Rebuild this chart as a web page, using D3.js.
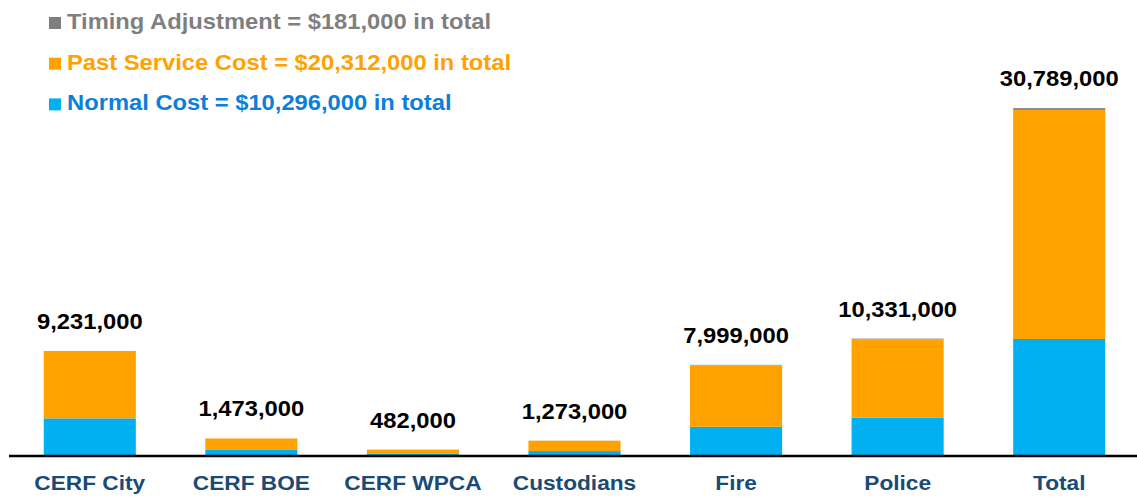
<!DOCTYPE html>
<html>
<head>
<meta charset="utf-8">
<script src="https://cdn.jsdelivr.net/npm/d3@7"></script>
<style>
  body { margin: 0; background: #fff; }
  svg { display: block; font-family: Arial, "Liberation Sans", sans-serif; font-weight: bold; }
</style>
</head>
<body>
<div class="svg-div"></div>
<script>
// chart values
const categories = ["CERF City", "CERF BOE", "CERF WPCA", "Custodians", "Fire", "Police", "Total"];
const normalCost = [3250000, 450000, 140000, 350000, 2500000, 3330000, 10296000];
const pastServiceCost = [5927000, 1014000, 339000, 915000, 5452000, 6941000, 20312000];
const timingAdjustment = [54000, 9000, 3000, 8000, 47000, 60000, 181000];
const totals = [9231000, 1473000, 482000, 1273000, 7999000, 10331000, 30789000];
const legendLabels = [
  "Timing Adjustment = $181,000 in total",
  "Past Service Cost = $20,312,000 in total",
  "Normal Cost = $10,296,000 in total"
];

const svgWidth = 1137, svgHeight = 498;
const stretch = "scale(1.08,1)";

let data = categories.map(function (c, i) {
  return { cat: c, normal: normalCost[i], past: pastServiceCost[i], timing: timingAdjustment[i], total: totals[i] };
});
let keys = ["normal", "past", "timing"];
let colors = { normal: "#00b0f0", past: "#ffa200", timing: "#8c8c8c" };

let svg = d3.select(".svg-div").append("svg")
  .attr("width", svgWidth)
  .attr("height", svgHeight);

let x = d3.scaleBand()
  .domain(categories)
  .range([9, 1140])
  .paddingInner(0.43)
  .paddingOuter(0.215);

let y = d3.scaleLinear()
  .domain([0, d3.max(totals)])
  .range([455, 108]);

let stacked = d3.stack().keys(keys)(data);

svg.selectAll(".layer")
  .data(stacked)
  .enter()
  .append("g")
  .attr("class", "layer")
  .style("fill", function (d) { return colors[d.key]; })
  .selectAll("rect")
  .data(function (d) { return d; })
  .enter()
  .append("rect")
  .attr("x", function (d) { return x(d.data.cat); })
  .attr("y", function (d) { return y(d[1]); })
  .attr("width", x.bandwidth())
  .attr("height", function (d) { return y(d[0]) - y(d[1]); });

// total labels above bars
svg.selectAll(".total")
  .data(data)
  .enter()
  .append("text")
  .attr("class", "total")
  .attr("transform", function (d) {
    return "translate(" + (x(d.cat) + x.bandwidth() / 2) + "," + (y(d.total) - 22) + ") " + stretch;
  })
  .attr("text-anchor", "middle")
  .style("font-size", "22px")
  .style("fill", "#000")
  .text(function (d) { return d3.format(",")(d.total); });

// category axis
let axis = svg.append("g")
  .attr("transform", "translate(0,456)")
  .call(d3.axisBottom(x).tickSize(0).tickSizeOuter(0));

axis.select(".domain")
  .attr("d", "M9,0H1137")
  .style("stroke", "#000")
  .style("stroke-width", 2.6);

axis.selectAll("text")
  .attr("y", 34)
  .attr("dy", 0)
  .attr("transform", stretch)
  .style("font-family", "Arial, 'Liberation Sans', sans-serif")
  .style("font-weight", "bold")
  .style("font-size", "21px")
  .style("fill", "#1b4a75");

// legend
let legendKeys = ["timing", "past", "normal"];
let legendText = { timing: "#7f7f7f", past: "#ffa200", normal: "#0b7fd9" };
let legendSquare = { timing: "#7f7f7f", past: "#ffa200", normal: "#00b0f0" };

let legend = svg.selectAll(".legend")
  .data(legendKeys)
  .enter()
  .append("g")
  .attr("class", "legend")
  .attr("transform", function (d, i) { return "translate(0," + (29 + i * 40.7) + ")"; });

legend.append("rect")
  .attr("x", 49)
  .attr("y", -12)
  .attr("width", 12)
  .attr("height", 12)
  .style("fill", function (d) { return legendSquare[d]; });

legend.append("text")
  .attr("transform", "translate(67,0) " + stretch)
  .style("font-size", "22px")
  .style("fill", function (d) { return legendText[d]; })
  .text(function (d, i) { return legendLabels[i]; });
</script>
</body>
</html>
